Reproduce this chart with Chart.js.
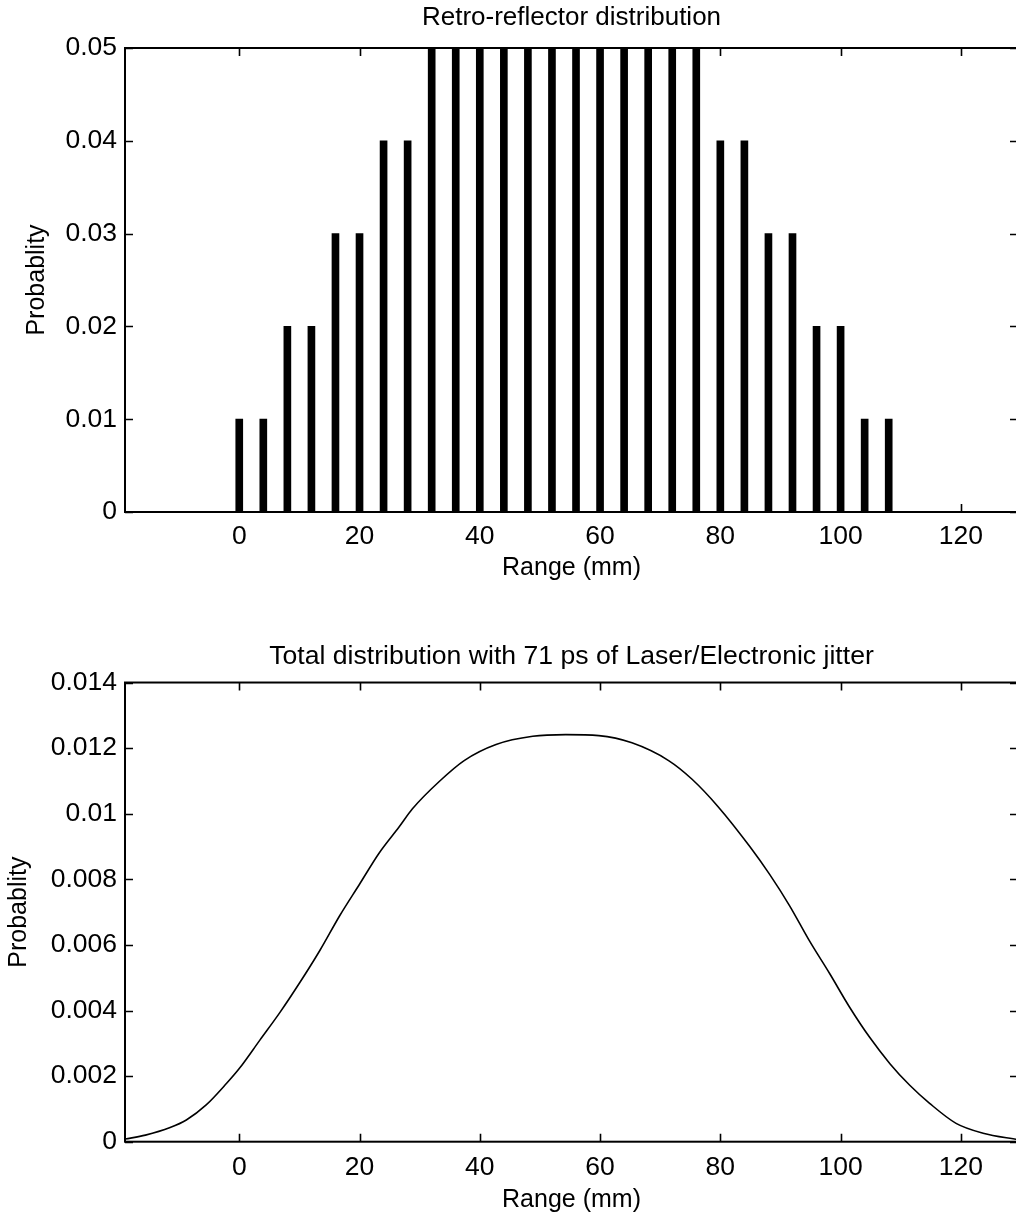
<!DOCTYPE html>
<html><head><meta charset="utf-8">
<script src="https://cdn.jsdelivr.net/npm/chart.js@4.4.1/dist/chart.umd.min.js"></script>
<style>
html,body{margin:0;padding:0;background:#fff;overflow:hidden;width:1016px;height:1218px}
#wrap{position:relative;width:1016px;height:1218px;overflow:hidden;background:#fff}
canvas{position:absolute;left:0}
#c1{top:0}
#c2{top:600px}
</style></head><body>
<div id="wrap"><canvas id="c1" width="1018" height="600"></canvas><canvas id="c2" width="1018" height="618"></canvas></div>
<script>
const FONT = "'Liberation Sans', Arial, Helvetica, sans-serif";

// Top chart: retro-reflector distribution (bars)
const rangeTop = [0,4,8,12,16,20,24,28,32,36,40,44,48,52,56,60,64,68,72,76,80,84,88,92,96,100,104,108];
const probTop  = [0.01,0.01,0.02,0.02,0.03,0.03,0.04,0.04,0.05,0.05,0.05,0.05,0.05,0.05,0.05,0.05,0.05,0.05,0.05,0.05,0.04,0.04,0.03,0.03,0.02,0.02,0.01,0.01];

// Bottom chart: total distribution (curve)
const rangeBottom = [-19,-15.6,-11.5,-8.8,-5.5,-2.1,0,3.4,6.8,10.1,13.4,16.7,20,23.3,26.6,28.8,33.3,37.4,42.7,48.8,54.3,59.8,65.3,71.4,75.3,79.7,84.9,88.2,91.5,94.8,98.2,101.5,104.8,108.2,111.5,114.8,119.2,123.7,129.5];
const probBottom  = [0.00008,0.0002,0.00043,0.00066,0.00112,0.00178,0.00223,0.00309,0.00395,0.00486,0.00583,0.00689,0.00785,0.00881,0.0096,0.01015,0.01099,0.01162,0.01211,0.01236,0.01241,0.01238,0.01216,0.01162,0.01105,0.0102,0.009,0.00815,0.0072,0.00613,0.00512,0.0041,0.00319,0.00238,0.00172,0.00117,0.00056,0.00026,0.00006];

const xTickValues = [0,20,40,60,80,100,120];
const xTickLabels = ['0','20','40','60','80','100','120'];
const yTickValuesTop = [0,0.01,0.02,0.03,0.04,0.05];
const yTickLabelsTop = ['0','0.01','0.02','0.03','0.04','0.05'];
const yTickValuesBottom = [0,0.002,0.004,0.006,0.008,0.01,0.012,0.014];
const yTickLabelsBottom = ['0','0.002','0.004','0.006','0.008','0.01','0.012','0.014'];

const titleTop = 'Retro-reflector distribution';
const titleBottom = 'Total distribution with 71 ps of Laser/Electronic jitter';
const xLabel = 'Range (mm)';
const yLabel = 'Probablity';

const framePlugin = {
  id: 'frame',
  afterDraw(chart) {
    const {ctx, chartArea: a} = chart;
    const x = chart.scales.x, y = chart.scales.y;
    ctx.save();
    ctx.strokeStyle = '#000';
    ctx.lineWidth = 2;
    ctx.strokeRect(a.left, a.top, a.right - a.left, a.bottom - a.top);
    ctx.lineWidth = 1.6;
    const L = 8;
    ctx.beginPath();
    x.ticks.forEach(t => {
      const px = Math.round(x.getPixelForValue(t.value)) + 0.5;
      ctx.moveTo(px, a.bottom); ctx.lineTo(px, a.bottom - L);
      ctx.moveTo(px, a.top); ctx.lineTo(px, a.top + L);
    });
    y.ticks.forEach(t => {
      const py = Math.round(y.getPixelForValue(t.value)) + 0.5;
      ctx.moveTo(a.left, py); ctx.lineTo(a.left + L, py);
      ctx.moveTo(a.right, py); ctx.lineTo(a.right - L, py);
    });
    ctx.stroke();
    ctx.restore();
  }
};

function makeScales(o) {
  return {
    x: {
      type: 'linear', min: -19, max: 129.5, offset: false,
      afterBuildTicks: s => { s.ticks = xTickValues.map(v => ({value: v})); },
      afterFit: s => { s.height = o.xHeight; },
      grid: {display: false, drawTicks: false}, border: {display: false},
      ticks: {padding: o.xTickPad, color: '#000', font: {family: FONT, size: 26.5}, maxRotation: 0, autoSkip: false,
        callback: (v, i) => xTickLabels[i]},
      title: {display: true, text: xLabel, color: '#000', font: {family: FONT, size: 25}, padding: {top: 0, bottom: o.xTitlePad}}
    },
    y: {
      type: 'linear', min: 0, max: o.yMax,
      afterBuildTicks: s => { s.ticks = o.yVals.map(v => ({value: v})); },
      afterFit: s => { s.width = 125; },
      grid: {display: false, drawTicks: false}, border: {display: false},
      ticks: {padding: 8, color: '#000', font: {family: FONT, size: 26.5}, autoSkip: false,
        callback: (v, i) => o.yLabs[i]},
      title: {display: true, text: yLabel, color: '#000', font: {family: FONT, size: 25}, padding: {top: o.yTitlePad, bottom: 0}}
    }
  };
}

function makeTitle(text, size, pt, pb) {
  return {display: true, text: text, fullSize: false, color: '#000', font: {family: FONT, size: size, weight: 'normal'}, padding: {top: pt, bottom: pb}};
}

new Chart(document.getElementById('c1'), {
  type: 'bar',
  data: {datasets: [{
    data: rangeTop.map((r, i) => ({x: r, y: probTop[i]})),
    backgroundColor: '#000', borderWidth: 0, barThickness: 7
  }]},
  options: {
    responsive: false, animation: false, devicePixelRatio: 1,
    layout: {padding: 0},
    plugins: {legend: {display: false}, tooltip: {enabled: false}, title: makeTitle(titleTop, 26, 2.4, 14.4)},
    scales: makeScales({xHeight: 88, xTickPad: 9, xTitlePad: 17, yMax: 0.05, yVals: yTickValuesTop, yLabs: yTickLabelsTop, yTitlePad: 22})
  },
  plugins: [framePlugin]
});

new Chart(document.getElementById('c2'), {
  type: 'line',
  data: {datasets: [{
    data: rangeBottom.map((r, i) => ({x: r, y: probBottom[i]})),
    borderColor: '#000', borderWidth: 1.6, pointRadius: 0, fill: false, cubicInterpolationMode: 'monotone'
  }]},
  options: {
    responsive: false, animation: false, devicePixelRatio: 1,
    layout: {padding: 0},
    plugins: {legend: {display: false}, tooltip: {enabled: false}, title: makeTitle(titleBottom, 26.6, 40.2, 10.4)},
    scales: makeScales({xHeight: 76.3, xTickPad: 10.5, xTitlePad: 3, yMax: 0.014, yVals: yTickValuesBottom, yLabs: yTickLabelsBottom, yTitlePad: 4})
  },
  plugins: [framePlugin]
});
</script>
</body></html>
